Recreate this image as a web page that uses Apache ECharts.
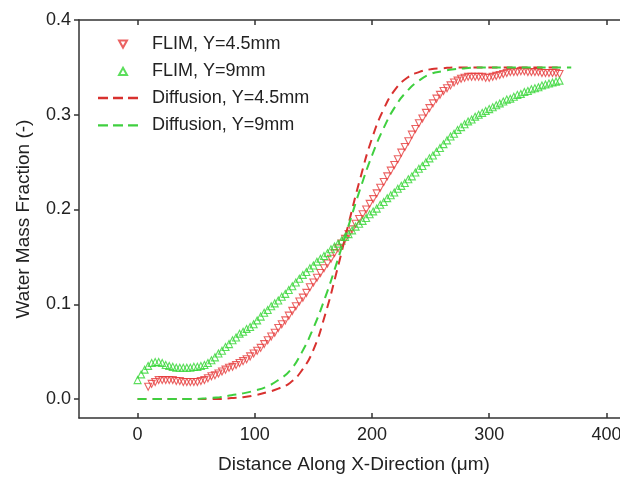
<!DOCTYPE html>
<html>
<head>
<meta charset="utf-8">
<script src="https://cdn.jsdelivr.net/npm/echarts@6/dist/echarts.min.js"></script>
<style>
  html, body { margin: 0; padding: 0; background: #fff; }
  #chart { width: 620px; height: 478px; }
</style>
</head>
<body>
<div id="chart"></div>
<script>
// x positions of FLIM measurements (µm)
const flimX = [
  0, 3, 6, 9, 12, 15, 18, 21, 24, 27, 30, 33, 36, 39, 42, 45, 48, 51, 54, 57,
  60, 63, 66, 69, 72, 75, 78, 81, 84, 87, 90, 93, 96, 99, 102, 105, 108, 111, 114, 117,
  120, 123, 126, 129, 132, 135, 138, 141, 144, 147, 150, 153, 156, 159, 162, 165, 168, 171, 174, 177,
  180, 183, 186, 189, 192, 195, 198, 201, 204, 207, 210, 213, 216, 219, 222, 225, 228, 231, 234, 237,
  240, 243, 246, 249, 252, 255, 258, 261, 264, 267, 270, 273, 276, 279, 282, 285, 288, 291, 294, 297,
  300, 303, 306, 309, 312, 315, 318, 321, 324, 327, 330, 333, 336, 339, 342, 345, 348, 351, 354, 357,
  360
];

// FLIM, Y=4.5mm (starts at x=9)
const flim45 = [
  null, null, null, .013, .016, .018, .020, .020, .020, .020, .020, .019, .019, .018, .018, .018, .018, .018, .019, .020,
  .022, .024, .025, .027, .029, .031, .033, .034, .036, .038, .040, .042, .045, .048, .051, .054, .058, .062, .066, .070,
  .075, .079, .083, .088, .093, .098, .103, .107, .112, .118, .123, .128, .133, .138, .143, .148, .154, .159, .164, .169,
  .174, .179, .185, .190, .195, .200, .206, .211, .217, .223, .229, .235, .241, .247, .253, .260, .266, .272, .279, .285,
  .291, .296, .302, .307, .312, .317, .321, .325, .328, .331, .334, .336, .338, .339, .340, .340, .340, .340, .340, .339,
  .339, .340, .341, .342, .343, .344, .345, .345, .345, .346, .346, .345, .345, .345, .345, .344, .344, .344, .344, .344,
  .343
];

// FLIM, Y=9mm
const flim9 = [
  .020, .026, .031, .035, .038, .039, .039, .038, .036, .035, .034, .033, .033, .033, .033, .033, .034, .034, .035, .036,
  .038, .041, .044, .048, .051, .055, .058, .062, .065, .069, .071, .074, .076, .079, .083, .087, .091, .094, .098, .101,
  .104, .108, .111, .115, .119, .123, .127, .131, .134, .138, .141, .145, .148, .151, .154, .158, .161, .164, .167, .171,
  .174, .178, .182, .185, .188, .191, .195, .198, .201, .205, .208, .212, .215, .218, .222, .225, .228, .232, .235, .239,
  .243, .246, .250, .254, .257, .261, .265, .269, .273, .277, .280, .284, .287, .290, .293, .295, .298, .300, .302, .304,
  .306, .308, .310, .312, .314, .316, .317, .319, .321, .322, .324, .325, .327, .328, .329, .331, .332, .333, .334, .335,
  .336
];

// diffusion model curves
const diffX = [
  0, 10, 20, 30, 40, 50, 60, 70, 80, 90, 100, 110, 120, 130, 140, 150, 160, 170, 180, 190,
  200, 210, 220, 230, 240, 250, 260, 270, 280, 290, 300, 310, 320, 330, 340, 350, 360, 370
];
const diff45 = [
  0, 0, 0, 0, 0, 0, 0, 0, .001, .002, .004, .007, .011, .017, .030, .052, .089, .135, .185, .233,
  .275, .306, .327, .339, .345, .348, .349, .350, .350, .350, .350, .350, .350, .350, .350, .350, .350, null
];
const diff9 = [
  0, 0, 0, 0, 0, 0, .001, .002, .004, .006, .009, .013, .020, .030, .049, .075, .107, .144, .183, .222,
  .257, .286, .309, .325, .336, .343, .346, .348, .349, .350, .350, .350, .350, .350, .350, .350, .350, .350
];

const xTicks = [0, 100, 200, 300, 400];
const yTicks = [0, 0.1, 0.2, 0.3, 0.4];

const RED = '#e63b3b';
const GREEN = '#33d633';
const RED_DASH = '#d8312f';
const GREEN_DASH = '#3fcf3f';
const FONT = 'Liberation Sans';

// legend icons
const DOWN_TRI = 'path://M0,0L10,0L5,9Z';
const UP_TRI = 'path://M5,0L10,9L0,9Z';
const DASHES = 'path://M0,0h10v2.4h-10zM15,0h10v2.4h-10zM30,0h10v2.4h-10z';

function pairs(xs, ys) {
  return xs.map((x, i) => [x, ys[i]]).filter(p => p[1] != null);
}

var myChart = echarts.init(document.getElementById('chart'), null, { renderer: 'canvas' });

var axisLine = { show: true, onZero: false, lineStyle: { color: '#333', width: 1.5 } };
var tickStyle = { color: '#333', width: 1.5 };
var legendText = { fontFamily: FONT, fontSize: 18, color: '#222' };

var option = {
  backgroundColor: '#fff',
  animation: false,
  textStyle: { fontFamily: FONT },
  grid: {
    left: 79,
    right: -45,
    top: 20,
    bottom: 60,
    outerBoundsMode: 'none'
  },
  legend: [
    {
      orient: 'vertical',
      left: 113,
      top: 30,
      itemWidth: 8,
      itemHeight: 8,
      itemGap: 9.4,
      textStyle: Object.assign({ padding: [0, 0, 0, 20] }, legendText),
      data: [
        { name: 'FLIM, Y=4.5mm', icon: DOWN_TRI },
        { name: 'FLIM, Y=9mm', icon: UP_TRI }
      ]
    },
    {
      orient: 'vertical',
      left: 93,
      top: 84,
      itemWidth: 40,
      itemHeight: 3,
      itemGap: 9.4,
      textStyle: Object.assign({ padding: [0, 0, 0, 9] }, legendText),
      data: [
        { name: 'Diffusion, Y=4.5mm', icon: DASHES, itemStyle: { color: RED_DASH, borderWidth: 0 } },
        { name: 'Diffusion, Y=9mm', icon: DASHES, itemStyle: { color: GREEN_DASH, borderWidth: 0 } }
      ]
    }
  ],
  xAxis: [
    {
      type: 'value',
      min: -50,
      max: 450,
      position: 'bottom',
      name: 'Distance Along X-Direction (μm)',
      nameLocation: 'middle',
      nameGap: 37,
      nameTextStyle: { fontFamily: FONT, fontSize: 19, color: '#222', padding: [0, 36, 0, 0] },
      axisLine: axisLine,
      axisTick: { show: true, inside: true, length: 5, customValues: xTicks, lineStyle: tickStyle },
      axisLabel: { customValues: xTicks, margin: 8, fontSize: 18, color: '#222', fontFamily: FONT },
      splitLine: { show: false }
    },
    {
      type: 'value',
      min: -50,
      max: 450,
      position: 'top',
      axisLine: axisLine,
      axisTick: { show: true, inside: true, length: 5, customValues: xTicks, lineStyle: tickStyle },
      axisLabel: { show: false },
      splitLine: { show: false }
    }
  ],
  yAxis: {
    type: 'value',
    min: -0.02,
    max: 0.4,
    position: 'left',
    name: 'Water Mass Fraction (-)',
    nameLocation: 'middle',
    nameGap: 46,
    nameTextStyle: { fontFamily: FONT, fontSize: 19, color: '#222' },
    axisLine: axisLine,
    axisTick: { show: true, inside: false, length: 5, customValues: yTicks, lineStyle: tickStyle },
    axisLabel: {
      customValues: yTicks,
      margin: 8,
      fontSize: 18,
      color: '#222',
      fontFamily: FONT,
      formatter: function (v) { return v.toFixed(1); }
    },
    splitLine: { show: false }
  },
  series: [
    {
      name: 'FLIM, Y=4.5mm',
      type: 'scatter',
      symbol: 'triangle',
      symbolRotate: 180,
      symbolSize: 7,
      itemStyle: { color: 'rgba(255,255,255,0)', borderColor: RED, borderWidth: 1.1 },
      data: pairs(flimX, flim45),
      z: 2
    },
    {
      name: 'FLIM, Y=9mm',
      type: 'scatter',
      symbol: 'triangle',
      symbolSize: 7,
      itemStyle: { color: 'rgba(255,255,255,0)', borderColor: GREEN, borderWidth: 1.1 },
      data: pairs(flimX, flim9),
      z: 2
    },
    {
      name: 'Diffusion, Y=4.5mm',
      type: 'line',
      showSymbol: false,
      symbol: 'none',
      smooth: true,
      lineStyle: { color: RED_DASH, width: 2, type: [9, 6] },
      itemStyle: { color: RED_DASH },
      data: pairs(diffX, diff45),
      z: 3
    },
    {
      name: 'Diffusion, Y=9mm',
      type: 'line',
      showSymbol: false,
      symbol: 'none',
      smooth: true,
      lineStyle: { color: GREEN_DASH, width: 2, type: [9, 6] },
      itemStyle: { color: GREEN_DASH },
      data: pairs(diffX, diff9),
      z: 3
    }
  ]
};
// 设置配置
myChart.setOption(option);
</script>
</body>
</html>
